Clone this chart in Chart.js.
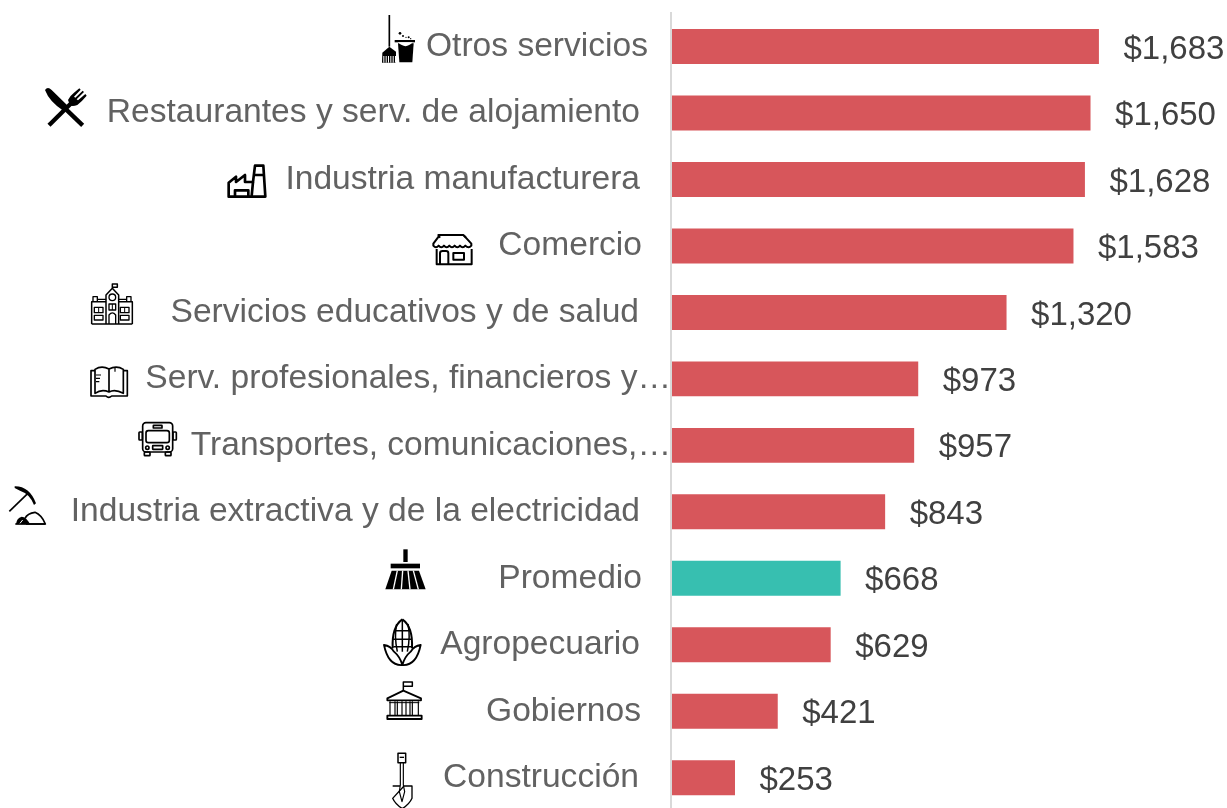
<!DOCTYPE html>
<html><head><meta charset="utf-8">
<script src="https://cdn.jsdelivr.net/npm/chart.js@4"></script>
<style>html,body{margin:0;padding:0;background:#fff;overflow:hidden;height:808px}#w{position:relative;width:1227px;height:811px}canvas{display:block}</style>
</head><body><div id="w"><canvas id="c" width="1227" height="811"></canvas></div>
<script>
const categories=["Otros servicios","Restaurantes y serv. de alojamiento","Industria manufacturera","Comercio","Servicios educativos y de salud","Serv. profesionales, financieros y…","Transportes, comunicaciones,…","Industria extractiva y de la electricidad","Promedio","Agropecuario","Gobiernos","Construcción"];
const values=[1683,1650,1628,1583,1320,973,957,843,668,629,421,253];
const highlight="Promedio";
const labelRight=[648,640,640,642,639,671,671,640,642,640,641,639];

// Pictograms, authored at 3x in a local crop frame: [cropX, cropY, draw]
function P(c,d,fill,w){const p=new Path2D(d);if(fill){c.fillStyle=fill;c.fill(p);}else{c.lineWidth=w||3;c.strokeStyle="#000";c.stroke(p);}}
const icons=[
[370,0,c=>{P(c,"M58 45V140",0,5);P(c,"M37 158L58 140L78 155V188H36Z","#000");P(c,"M84 130H131L127 187H88Z","#000");P(c,"M74 120H135V127H74Z","#000");
 c.fillStyle="#fff";c.beginPath();c.moveTo(84,127);c.quadraticCurveTo(107,150,128,127);c.closePath();c.fill();
 c.fillStyle="#000";[[90,100,4],[99,108,3],[116,112,3],[108,112,2],[122,116,2]].forEach(a=>{c.beginPath();c.arc(a[0],a[1],a[2],0,7);c.fill();});
 c.fillStyle="#fff";for(let x=40;x<76;x+=7)c.fillRect(x,168,3,20);}],
[0,0,c=>{P(c,"M135 270Q143 258 155 270L204 318L190 332Q148 305 135 270Z","#000");P(c,"M195 325L248 376",0,13);P(c,"M147 376L218 305",0,13);
 P(c,"M204 300Q212 285 222 278L238 265L242 269L222 290L226 293L248 272L252 276L230 298L234 301L256 282L260 287Q245 305 232 315Q218 320 210 316Z","#000");}],
[0,0,c=>{P(c,"M686 590V548L708 530V546L735 525V546H759L765 497H790L796 590Z",0,8);P(c,"M705 588V571H745V588M759 546L755 588M765 525H790",0,8);}],
[420,225,c=>{P(c,"M60 38L55 30H130L138 38",0,6);P(c,"M58 32L40 56V62Q48 72 56 62Q64 72 72 62Q80 72 88 62Q96 72 104 62Q112 72 120 62Q128 72 136 62Q146 72 154 62V56L132 32",0,6);
 P(c,"M50 72V118H155V72M60 118V85Q60 78 68 78H78Q85 78 85 85V118",0,6);c.lineWidth=6;c.strokeRect(100,84,32,20);}],
[0,270,c=>{P(c,"M275 162V95H318M397 162V95H356M275 162H397M318 162V75L337 55L356 75V162M337 55V42H352V52H337",0,4.5);
 P(c,"M279 95V80H292V95M380 95V80H393V95M292 88H318M356 88H380M327 162V135Q337 122 347 135V162",0,4);
 c.lineWidth=4;c.strokeStyle="#000";[[283,112,26,16],[283,136,26,14],[361,112,26,16],[361,136,26,14],[327,102,20,18]].forEach(a=>c.strokeRect(...a));
 c.beginPath();c.arc(337,82,10,0,7);c.stroke();P(c,"M296 112V128M374 112V128M337 102V120",0,3);}],
[0,270,c=>{P(c,"M285 302H273V378H318Q326 386 335 378H382V302H370",0,5);P(c,"M285 370V298Q305 285 327 297V366Q305 356 285 370ZM327 297Q350 285 370 298V370Q345 356 327 366",0,5);P(c,"M288 315H303M288 325H300M288 335H298M345 292V305",0,3.5);}],
[0,270,c=>{c.strokeStyle="#000";c.lineWidth=5;const r=(x,y,w,h,q)=>{c.beginPath();c.roundRect(x,y,w,h,q);c.stroke();};
 r(428,458,90,88,10);r(438,482,70,36,7);r(460,466,26,8,1);r(417,486,10,24,2);r(519,486,10,24,2);r(458,527,30,11,1);r(433,546,17,11,2);r(496,546,17,11,2);
 c.beginPath();c.arc(442,533,5,0,7);c.stroke();c.beginPath();c.arc(503,533,5,0,7);c.stroke();}],
[0,270,c=>{P(c,"M28 724L86 668",0,5);P(c,"M44 649Q88 648 108 700L102 705Q90 672 60 662L44 654Z","#000");
 P(c,"M75 745Q82 730 105 727Q125 735 136 762H78",0,5);P(c,"M48 762Q50 744 65 740Q78 740 90 762Z","#000");P(c,"M46 762H136",0,5);c.strokeStyle="#fff";c.lineWidth=3;c.stroke(new Path2D("M60 760L68 750"));}],
[370,540,c=>{c.fillStyle="#000";c.fillRect(100,28,13,38);c.fillRect(62,71,88,14);
 c.beginPath();c.moveTo(65,92);c.lineTo(147,92);c.lineTo(167,148);c.lineTo(46,148);c.closePath();c.fill();
 c.strokeStyle="#fff";c.lineWidth=4;[[82,70],[98,94],[114,120],[130,145]].forEach(a=>{c.beginPath();c.moveTo(a[0],92);c.lineTo(a[1],148);c.stroke();});}],
[370,540,c=>{P(c,"M97 238Q65 260 68 325M97 238Q129 260 126 325",0,6);P(c,"M97 240V335M80 252Q72 290 82 335M114 252Q122 290 112 335M72 272H122M68 298H126M70 320H124",0,4.5);
 P(c,"M42 315Q62 318 72 335Q90 350 97 375Q55 378 42 315ZM152 315Q132 318 122 335Q104 350 97 375Q139 378 152 315Z",0,5.5);}],
[370,540,c=>{P(c,"M100 452V426H127V439H102",0,4.5);P(c,"M52 475L100 452L153 475V481H52Z",0,5.5);P(c,"M60 484V525M75 484V525M82 484V525M96 484V525M108 484V525M120 484V525M127 484V525M145 484V525",0,3.5);P(c,"M58 488H148",0,3);P(c,"M52 527H155V537H52Z",0,5.5);}],
[370,540,c=>{P(c,"M84 640H107V668H84Z",0,4.5);P(c,"M89 652H102",0,4);P(c,"M91 668V735M100 668V735",0,3.5);P(c,"M91 735L88 755L96 785L104 755L100 735",0,3.5);P(c,"M68 738H90M102 738H126V775Q118 793 97 806Q76 793 68 775Z",0,4);}]
];

const iconPlugin={id:"icons",afterDatasetsDraw(chart){
 const c=chart.ctx;c.save();
 icons.forEach(ic=>{c.save();c.translate(ic[0],ic[1]);c.scale(1/3,1/3);c.lineJoin="round";c.lineCap="butt";ic[2](c);c.restore();});
 c.restore();
 const y=chart.scales.y;c.save();c.font="33.6px 'Liberation Sans'";c.fillStyle="#626262";c.textAlign="right";c.textBaseline="middle";
 categories.forEach((t,i)=>c.fillText(t,labelRight[i],y.getPixelForTick(i)));c.restore();
 const meta=chart.getDatasetMeta(0);c.save();c.font="33px 'Liberation Sans'";c.fillStyle="#404040";c.textAlign="left";c.textBaseline="middle";
 meta.data.forEach((b,i)=>c.fillText("$"+values[i].toLocaleString("en-US"),b.x+24.5,b.y+3));c.restore();
}};

new Chart(document.getElementById("c"),{type:"bar",
 data:{labels:categories,datasets:[{data:values,backgroundColor:categories.map(n=>n===highlight?"#37BFB0":"#D7565B"),barPercentage:.526,categoryPercentage:1,borderWidth:0}]},
 options:{indexAxis:"y",responsive:false,animation:false,devicePixelRatio:1,
  layout:{padding:{top:13.25,bottom:0,left:0,right:72.85}},
  plugins:{legend:{display:false},tooltip:{enabled:false}},
  scales:{
   x:{display:false,min:0,max:1900,grid:{display:false}},
   y:{grid:{display:false,drawTicks:false},border:{display:true,color:"#D9D9D9",width:2,z:1},ticks:{display:false},afterFit(s){s.width=670.6;}}
  }},
 plugins:[iconPlugin]});
</script></body></html>
